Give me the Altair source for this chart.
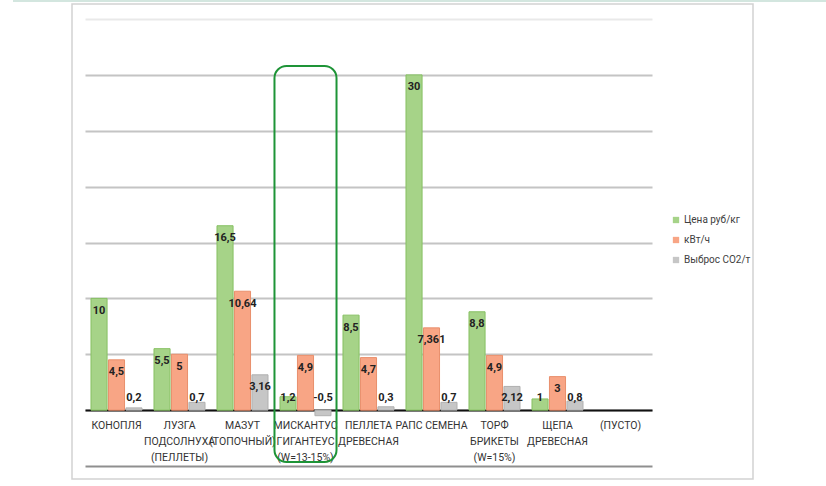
import altair as alt
import pandas as pd

categories = [
    "КОНОПЛЯ",
    "ЛУЗГА|ПОДСОЛНУХА|(ПЕЛЛЕТЫ)",
    "МАЗУТ|(ТОПОЧНЫЙ)",
    "МИСКАНТУС|ГИГАНТЕУС|(W=13-15%)",
    "ПЕЛЛЕТА|ДРЕВЕСНАЯ",
    "РАПС СЕМЕНА",
    "ТОРФ|БРИКЕТЫ|(W=15%)",
    "ЩЕПА|ДРЕВЕСНАЯ",
    "(ПУСТО)",
]
series = ["Цена руб/кг", "кВт/ч", "Выброс CO2/т"]
price = [10, 5.5, 16.5, 1.2, 8.5, 30, 8.8, 1]
kwh = [4.5, 5, 10.64, 4.9, 4.7, 7.361, 4.9, 3]
co2 = [0.2, 0.7, 3.16, -0.5, 0.3, 0.7, 2.12, 0.8]
highlight = ["МИСКАНТУС|ГИГАНТЕУС|(W=13-15%)"]

fills = ["#a6d388", "#f8a585", "#c6c6c6"]
strokes = ["#86c062", "#e98f6c", "#b0b0b0"]

rows = []
for s, vals in zip(series, [price, kwh, co2]):
    for c, v in zip(categories, vals):
        rows.append({"cat": c, "series": s, "value": v,
                     "label": f"{v:g}".replace(".", ",")})
df = pd.DataFrame(rows)

FONT = "Roboto, Liberation Sans, sans-serif"
W, H = 567, 447

x_enc = alt.X("cat:N", sort=categories,
              scale=alt.Scale(domain=categories, paddingInner=0.19, paddingOuter=0.095),
              axis=alt.Axis(title=None, labelExpr="split(datum.label, '|')",
                            labelAngle=0, labelFont=FONT, labelFontSize=10.5,
                            labelColor="#333333", labelLineHeight=16,
                            labelBaseline="top", labelPadding=10,
                            labelOverlap=False, labelBound=False,
                            ticks=False, domainColor="#111111", domainWidth=2,
                            offset=-56, grid=False))
y_scale = alt.Scale(domain=[-5, 35], nice=False, zero=False)
y_axis = alt.Axis(title=None, labels=False, ticks=False, domain=False,
                  values=list(range(-5, 36, 5)),
                  gridColor={"condition": [{"test": "datum.value == -5", "value": "#8f8f8f"},
                                           {"test": "datum.value == 35", "value": "#e9e9e9"}],
                             "value": "#c4c4c4"},
                  gridWidth=2)
xoff = alt.XOffset("series:N", sort=series,
                   scale=alt.Scale(domain=series, paddingInner=0.08))

panel = alt.Chart(pd.DataFrame({"a": [0]})).mark_rect(
    fill="transparent", stroke="#d2d2d2", strokeWidth=1.5
).encode(x=alt.value(-13), x2=alt.value(668), y=alt.value(-15), y2=alt.value(460))

topline = alt.Chart(pd.DataFrame({"a": [0]})).mark_rule(
    color="#d3e6df", strokeWidth=2
).encode(x=alt.value(-72), x2=alt.value(741), y=alt.value(-18))

bars = alt.Chart(df).mark_bar(strokeWidth=1).encode(
    x=x_enc,
    xOffset=xoff,
    y=alt.Y("value:Q", scale=y_scale, axis=y_axis),
    color=alt.Color("series:N", sort=series,
                    scale=alt.Scale(domain=series, range=fills),
                    legend=alt.Legend(title=None, orient="none", legendX=586, legendY=196,
                                      symbolType="square", symbolSize=40,
                                      symbolStrokeWidth=0,
                                      labelFont=FONT, labelFontSize=10,
                                      labelColor="#404040", rowPadding=10,
                                      labelOffset=3)),
    stroke=alt.Stroke("series:N", sort=series,
                      scale=alt.Scale(domain=series, range=strokes), legend=None),
)

labels = alt.Chart(df).transform_calculate(
    ly="max(datum.value, 2.2)"
).mark_text(dy=12.5, baseline="middle", align="center", font=FONT,
            fontSize=11, fontWeight="bold", color="#222222").encode(
    x=alt.X("cat:N", sort=categories),
    xOffset=alt.XOffset("series:N", sort=series),
    y=alt.Y("ly:Q"),
    text="label:N",
)

box = alt.Chart(pd.DataFrame({"cat": highlight})).mark_bar(
    fill="transparent", stroke="#1e9437", strokeWidth=2, cornerRadius=12,
    width=alt.RelativeBandSize(62 / 51),
).encode(
    x=alt.X("cat:N", sort=categories),
    y=alt.value(47), y2=alt.value(443),
)

chart = alt.layer(panel, topline, bars, labels, box).properties(
    width=W, height=H,
    autosize=alt.AutoSizeParams(type="none"),
    padding={"left": 85, "top": 19, "right": 174, "bottom": 20},
    background="white",
).configure_view(stroke=None)

chart.save("out.html", embed_options={"renderer": "svg", "actions": False})
